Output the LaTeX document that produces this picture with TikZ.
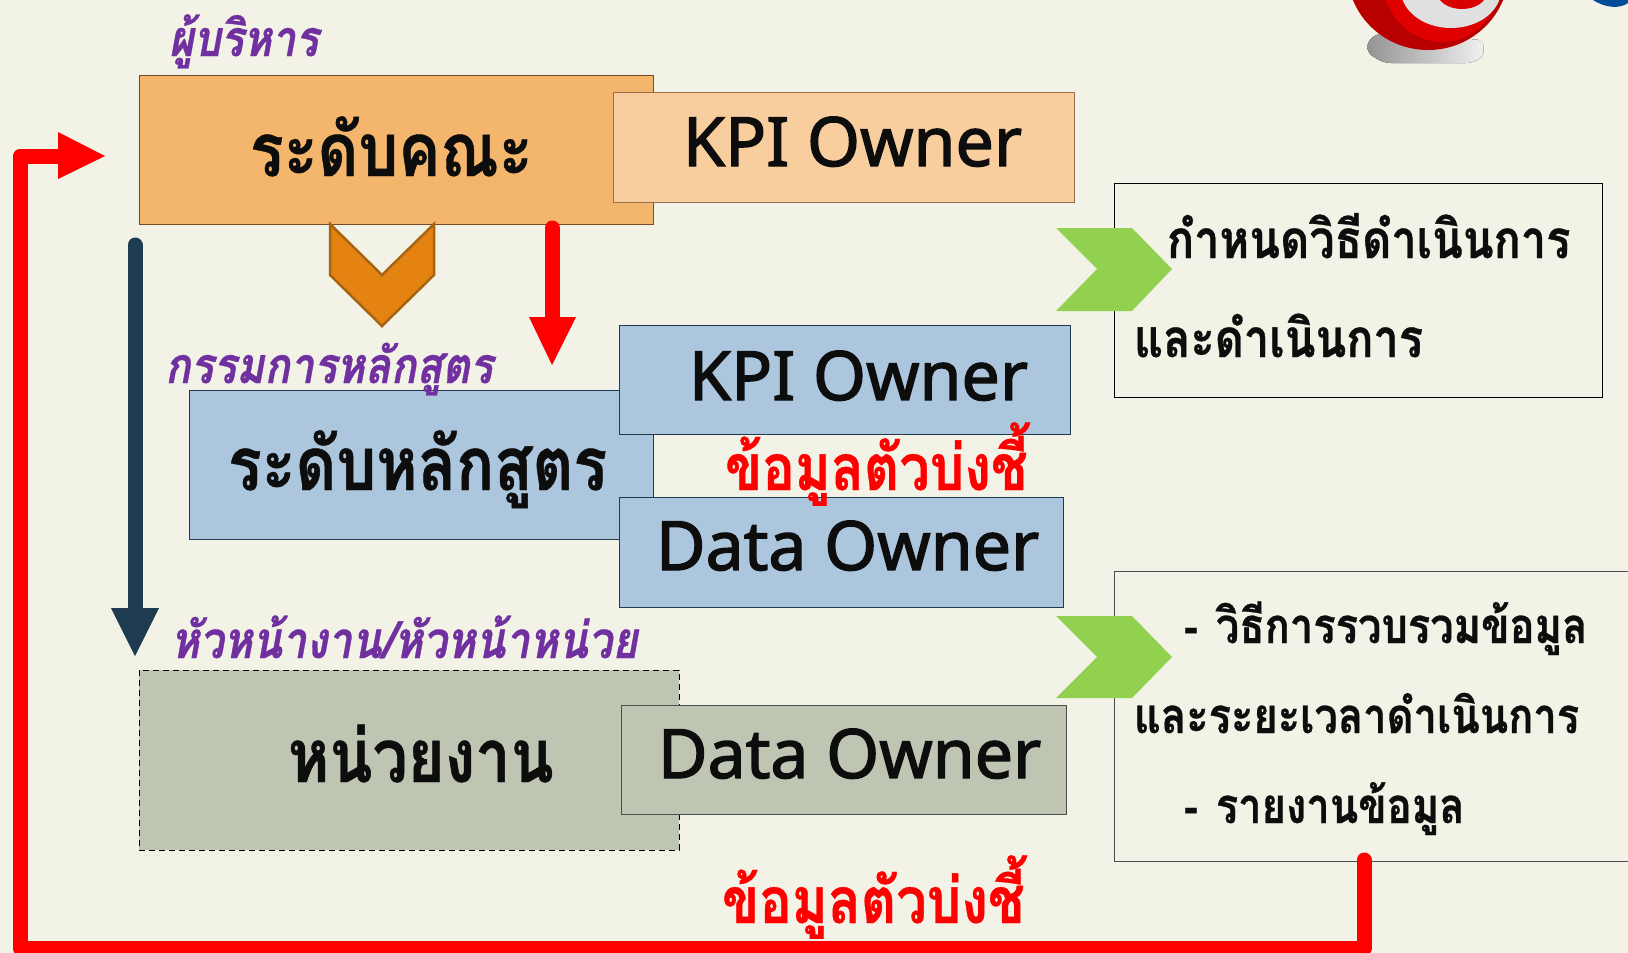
\documentclass[tikz,border=0pt]{standalone}
\usepackage{fontspec}
\setmainfont{Noto Sans}
\newfontfamily\thaifont[Script=Thai,FakeStretch=0.85,FakeBold=0.6]{Loma}
\newfontfamily\latinf[FakeBold=2]{Noto Sans}
\definecolor{bgc}{HTML}{F2F2E6}
\definecolor{inkc}{HTML}{0D0D0D}
\definecolor{purp}{HTML}{7030A0}
\definecolor{orA}{HTML}{F4B56C}
\definecolor{orB}{HTML}{F8CE9E}
\definecolor{orD}{HTML}{7A4A24}
\definecolor{blA}{HTML}{ABC6DD}
\definecolor{grA}{HTML}{BFC5B3}
\definecolor{darkb}{HTML}{1F3B50}
\definecolor{chevo}{HTML}{E48312}
\definecolor{chevd}{HTML}{A86410}
\definecolor{greenc}{HTML}{92D050}
\tikzset{
  box/.style={rectangle,anchor=north west,inner sep=0pt,outer sep=0pt,draw=#1,line width=1pt},
  txt/.style={anchor=base west,inner sep=0pt,outer sep=0pt,text=inkc},
  big/.style={txt,font=\thaifont\bfseries\fontsize{74}{74}\selectfont},
  mid/.style={txt,font=\thaifont\bfseries\fontsize{53}{54}\selectfont},
  midb/.style={txt,font=\thaifont\bfseries\fontsize{49}{50}\selectfont},
  eng/.style={txt,font=\latinf\fontsize{68}{68}\selectfont},
  role/.style={txt,text=purp,font=\thaifont\bfseries\itshape\fontsize{50}{50}\selectfont},
  alert/.style={txt,text=red,font=\thaifont\bfseries\fontsize{64}{64}\selectfont},
  redline/.style={draw=red,line width=15pt,line cap=round,line join=round},
}
\newcommand{\bx}[7]{\node[box=#6,fill=#7,minimum width=#4 pt-#2 pt,minimum height=#5 pt-#3 pt] (#1) at (#2,#3) {};}
\begin{document}
\begin{tikzpicture}[x=1pt,y=-1pt]
\useasboundingbox (0,0) rectangle (1628,953);
\fill[bgc] (0,0) rectangle (1628,953);
% target ball
\begin{scope}
\clip (0,0) rectangle (1628,953);
\fill[left color=black!42,right color=red!12!black!6,rounded corners=6pt] (1367,42) -- (1378,33) -- (1483,40) -- (1484,56) -- (1472,63) -- (1385,63) -- (1375,58) -- (1367,52) -- cycle;
\fill[red!72!black] (1428,-30) ellipse [x radius=81,y radius=80];
\fill[red!88!black] (1442,-30) ellipse [x radius=62,y radius=72];
\fill[black!12] (1451,-10) ellipse [x radius=50,y radius=38];
\fill[red!85!black] (1462,-8) ellipse [x radius=25,y radius=17];
\fill[blue!50!cyan!60!black] (1593,0) .. controls (1605,8) and (1620,9) .. (1628,3) -- (1628,0) -- cycle;
\end{scope}
% text frames
\bx{stepsA}{1114}{183}{1602}{397}{black}{bgc}
\node[box=black!70,minimum width=530pt,minimum height=290pt] (stepsB) at (1114,571) {};
% faculty
\bx{fac}{139}{75}{653}{224}{orD}{orA}
\bx{kpiA}{613}{92}{1074}{202}{orD!80}{orB}
% programme
\bx{prog}{189}{390.5}{653}{539}{darkb}{blA}
\bx{kpiB}{619}{325}{1070}{434}{darkb}{blA}
\bx{dataA}{619}{497}{1063}{607}{darkb}{blA}
% unit
\node[box=black,dash pattern=on 6pt off 4pt,fill=grA,minimum width=540pt,minimum height=180pt] (unit) at (139,670) {};
\bx{dataB}{621}{705}{1066}{814}{black!70}{grA}
% text
\node[big] (tfac) at (250,176) {ระดับคณะ};
\node[eng] (tkA) at (683,166) {KPI Owner};
\node[big] (tprog) at (228,490) {ระดับหลักสูตร};
\node[eng] (tkB) at (689,400) {KPI Owner};
\node[eng] (tdA) at (656,570) {Data Owner};
\node[big] (tunit) at (288,782) {หน่วยงาน};
\node[eng] (tdB) at (658,778) {Data Owner};
\node[alert] (alA) at (725,490) {ข้อมูลตัวบ่งชี้};
\node[alert] (alB) at (722,923) {ข้อมูลตัวบ่งชี้};
\node[role] (rA) at (169,56) {ผู้บริหาร};
\node[role] (rB) at (165,383) {กรรมการหลักสูตร};
\node[role,font=\thaifont\bfseries\itshape\fontsize{51}{51}\selectfont] (rC) at (171,658) {หัวหน้างาน/หัวหน้าหน่วย};
\node[mid] (lA) at (1167,258) {กำหนดวิธีดำเนินการ};
\node[mid] (lB) at (1134,357) {และดำเนินการ};
\node[midb] (lC) at (1184,643) {-\hspace{18pt}วิธีการรวบรวมข้อมูล};
\node[midb] (lD) at (1134,733) {และระยะเวลาดำเนินการ};
\node[midb] (lE) at (1184,823) {-\hspace{18pt}รายงานข้อมูล};
% chevrons
\fill[greenc] (1056,228) -- (1132,228) -- (1172,269) -- (1132,311) -- (1056,311) -- (1097,269) -- cycle;
\fill[greenc] (1056,616) -- (1132,616) -- (1172,657) -- (1132,698) -- (1056,698) -- (1097,657) -- cycle;
\filldraw[fill=chevo,draw=chevd,line width=2.5pt] (330,224) -- (382,275) -- (434,224) -- (434,275) -- (382,326) -- (330,275) -- cycle;
% arrows
\coordinate (rs) at (1364,860);
\coordinate (rc) at (1364,948);
\coordinate (lc) at (20,948);
\coordinate (lt) at (20,156);
\coordinate (le) at (60,156);
\draw[redline] (rs) -- (rc) -- (lc) -- (lt) -- (le);
\fill[red] (58,132) -- (105,156) -- (58,179) -- cycle;
\coordinate (sa) at (552,228);
\coordinate (sb) at (552,320);
\draw[redline] (sa) -- (sb);
\fill[red] (529,317) -- (576,317) -- (552,365) -- cycle;
\coordinate (da) at (135,245);
\coordinate (db) at (135,612);
\draw[draw=darkb,line width=15pt,line cap=round] (da) -- (db);
\fill[darkb] (111,608) -- (159,608) -- (135,656) -- cycle;
\end{tikzpicture}
\end{document}
